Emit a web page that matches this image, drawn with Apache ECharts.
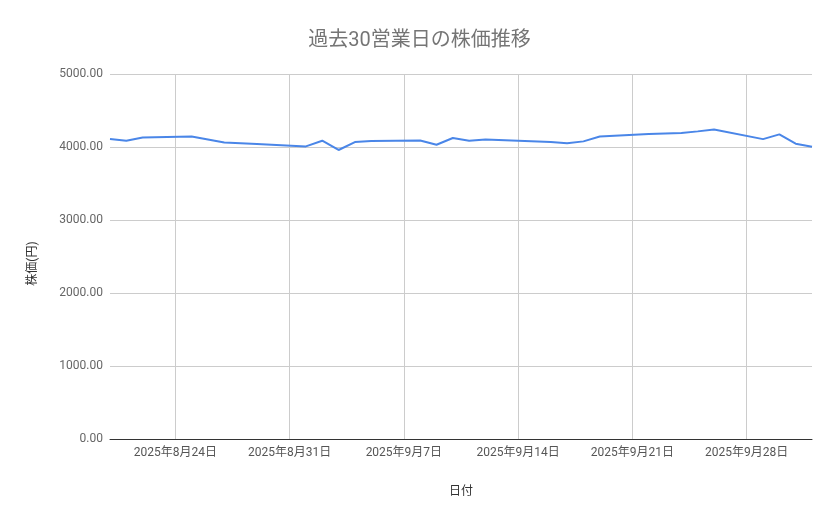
<!DOCTYPE html>
<html><head><meta charset="utf-8">
<script src="https://cdn.jsdelivr.net/npm/echarts@6/dist/echarts.min.js"></script>
<style>html,body{margin:0;padding:0;background:#fff}#c{width:839px;height:519px}</style>
</head><body><div id="c"></div>
<script>
const dates = ['2025-08-20','2025-08-21','2025-08-22','2025-08-25','2025-08-26','2025-08-27','2025-08-28','2025-08-29',
  '2025-09-01','2025-09-02','2025-09-03','2025-09-04','2025-09-05','2025-09-08','2025-09-09','2025-09-10','2025-09-11','2025-09-12',
  '2025-09-16','2025-09-17','2025-09-18','2025-09-19','2025-09-22','2025-09-24','2025-09-25','2025-09-26',
  '2025-09-29','2025-09-30','2025-10-01','2025-10-02'];
const prices = [4110,4086,4130,4145,4104,4063,4052,4041,
  4008,4086,3959,4068,4082,4090,4031,4123,4086,4104,
  4068,4050,4077,4143,4178,4192,4214,4241,
  4108,4173,4045,4004];
const tickDates = ['2025-08-24','2025-08-31','2025-09-07','2025-09-14','2025-09-21','2025-09-28'];
const yTicks = [0,1000,2000,3000,4000,5000];

const DAY = 86400000;
const origin = Date.UTC(2025,7,24);
function dayNum(s){const p=s.split('-').map(Number);return (Date.UTC(p[0],p[1]-1,p[2])-origin)/DAY;}
function label(v){const d=new Date(origin+Math.round(v)*DAY);return d.getUTCFullYear()+'年'+(d.getUTCMonth()+1)+'月'+d.getUTCDate()+'日';}
const pts = dates.map((d,i)=>[dayNum(d),prices[i]]);
const tickVals = tickDates.map(dayNum);
const font = "Roboto, 'Noto Sans CJK JP', sans-serif";

const chart = echarts.init(document.getElementById('c'));
chart.setOption({
  animation:false,
  textStyle:{fontFamily:font},
  title:{text:'過去30営業日の株価推移',left:'center',top:26,textStyle:{fontSize:20,fontWeight:'normal',color:'#757575',fontFamily:font}},
  grid:{left:110,right:27,top:74,bottom:80},
  xAxis:{type:'value',min:dayNum(dates[0]),max:dayNum(dates[dates.length-1]),
    name:'日付',nameLocation:'middle',nameGap:47,nameTextStyle:{fontSize:12,color:'#333',fontFamily:font},
    axisLine:{show:true,lineStyle:{color:'#333',width:1}},
    axisTick:{show:false,customValues:tickVals},
    axisLabel:{customValues:tickVals,formatter:label,color:'#555',fontSize:12,margin:8,fontFamily:font},
    splitLine:{show:true,customValues:tickVals,lineStyle:{color:'#ccc',width:1}}},
  yAxis:{type:'value',min:yTicks[0],max:yTicks[yTicks.length-1],interval:1000,
    name:'株価(円)',nameLocation:'middle',nameGap:71,nameTextStyle:{fontSize:12,color:'#333',fontFamily:font,padding:[0,14,0,0]},
    axisLine:{show:false},axisTick:{show:false},
    axisLabel:{formatter:v=>v.toFixed(2),color:'#666',fontSize:12,margin:7,fontFamily:font},
    splitLine:{lineStyle:{color:'#ccc',width:1}}},
  series:[{type:'line',data:pts,showSymbol:false,symbol:'none',lineStyle:{color:'#4a86e8',width:2},itemStyle:{color:'#4a86e8'}}]
});
</script></body></html>
